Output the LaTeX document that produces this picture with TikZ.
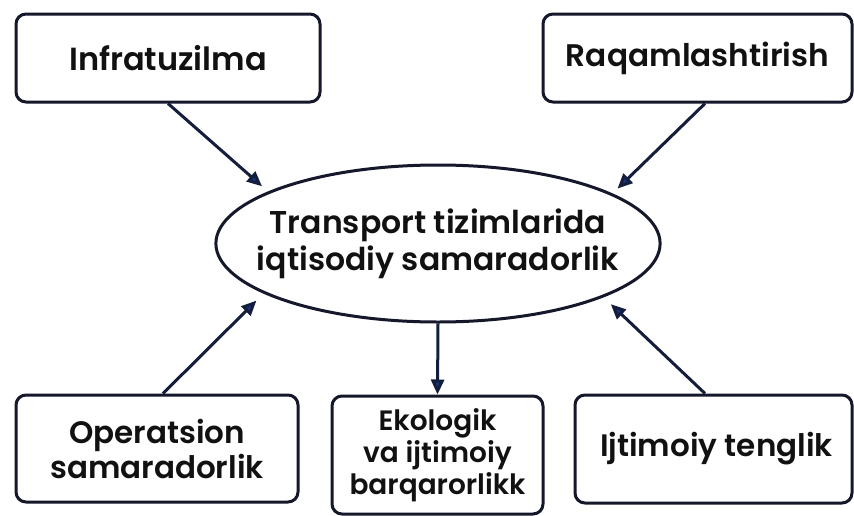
\documentclass[tikz,border=0pt]{standalone}
\usepackage{fontspec}
\setmainfont{Poppins SemiBold}
\usetikzlibrary{arrows.meta,shapes.geometric}
\definecolor{edge}{HTML}{15172A}
\definecolor{arrowline}{HTML}{141E3C}
\definecolor{arrowhead}{HTML}{0E3878}
\definecolor{ink}{HTML}{111111}
\begin{document}
\begin{tikzpicture}[x=1pt,y=-1pt,
  box/.style={draw=edge,line width=3pt,rounded corners=10pt,fill=white,
    text=ink,align=center,inner sep=0pt},
  oval/.style={ellipse,draw=edge,line width=3pt,fill=white,text=ink,
    align=center,inner xsep=-24pt,inner ysep=0pt,minimum width=444pt,minimum height=157pt},
  conn/.style={draw=arrowline,line width=3pt,
    -{Triangle[length=15pt,width=13pt,fill=arrowhead]}},
  big/.style={font=\fontsize{31.5}{37}\selectfont},
  mid/.style={font=\fontsize{31}{35}\selectfont},
  small/.style={font=\fontsize{28}{32}\selectfont}]
\useasboundingbox[fill=white] (0,0) rectangle (854,515);

\node[box,font=\fontsize{32}{37}\selectfont,minimum width=304pt,minimum height=88pt] (inf) at (168,58) {Infratuzilma};
\node[box,font=\fontsize{31.2}{37}\selectfont,minimum width=309pt,minimum height=88pt] (raq) at (697.5,58) {Raqamlashtirish};
\node[oval,big] (ell) at (438,243.5) {Transport tizimlarida\\iqtisodiy samaradorlik};
\node[box,mid,minimum width=282pt,minimum height=107pt] (ops) at (157,448.5) {Operatsion\\samaradorlik};
\node[box,small,minimum width=211pt,minimum height=118pt] (eko) at (437.5,455) {Ekologik\\va ijtimoiy\\barqarorlikk};
\node[box,mid,minimum width=277pt,minimum height=108pt] (ijt) at (713.5,449) {\hspace*{6pt}Ijtimoiy tenglik};

\draw[conn,shorten >=8pt] (inf.south) -- (ell.163.8);
\draw[conn,shorten >=7pt] ([xshift=7.5pt]raq.south) -- (ell.16.4);
\draw[conn,shorten >=10pt] ([xshift=6pt]ops.north) -- (ell.196.6);
\draw[conn,shorten >=10pt] ([xshift=-8.5pt]ijt.north) -- (ell.342);
\draw[conn] (ell.south) -- (eko.north);
\end{tikzpicture}
\end{document}
